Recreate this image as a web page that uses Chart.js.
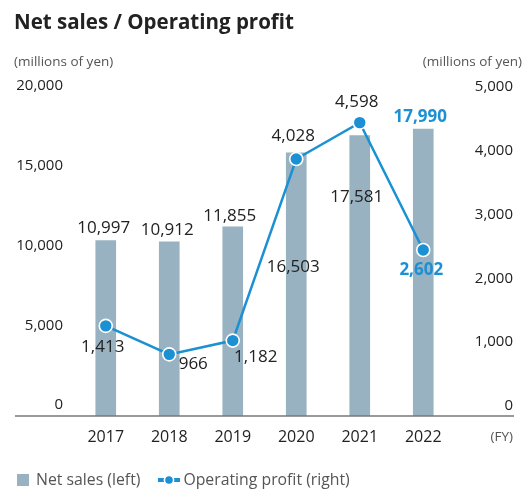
<!DOCTYPE html>
<html>
<head>
<meta charset="utf-8">
<script src="https://cdn.jsdelivr.net/npm/chart.js@4.4.1/dist/chart.umd.min.js"></script>
<style>
  html, body { margin:0; padding:0; background:#fff; }
  #wrap { position:relative; width:524px; height:495px; overflow:hidden; font-family:"Open Sans", sans-serif; }
  #c { position:absolute; left:0; top:0; }
  .txt { position:absolute; white-space:nowrap; line-height:1; }
  #title { left:14px; top:11px; font-size:20.5px; font-weight:700; color:#222; }
  #unitL { left:14px; top:55px; font-size:13.5px; color:#555; }
  #unitR { right:2px; top:55px; font-size:13.5px; color:#555; }
  #fy { right:11px; top:430px; font-size:13.5px; color:#555; }
  #legend { position:absolute; left:17px; top:472px; font-size:15.8px; color:#555; display:flex; align-items:center; line-height:1; }
  .sw { display:inline-block; width:12px; height:12px; background:#98b2c2; margin-right:7px; }
  .lg { display:inline-block; margin-right:3px; }
</style>
</head>
<body>
<div id="wrap">
  <canvas id="c" width="524" height="495"></canvas>
  <div id="title" class="txt">Net sales / Operating profit</div>
  <div id="unitL" class="txt">(millions of yen)</div>
  <div id="unitR" class="txt">(millions of yen)</div>
  <div id="fy" class="txt">(FY)</div>
  <div id="legend">
    <span class="sw"></span><span>Net sales (left)</span>
    <svg class="lg" style="margin-left:18px" width="22" height="12" viewBox="0 0 22 12">
      <line x1="0" y1="6" x2="22" y2="6" stroke="#1b90d3" stroke-width="4"/>
      <circle cx="11" cy="6" r="4.6" fill="#1b90d3" stroke="#fff" stroke-width="1.6"/>
    </svg><span>Operating profit (right)</span>
  </div>
</div>
<script>
// ---- data ----
const years = ['2017', '2018', '2019', '2020', '2021', '2022'];
const netSales = [10997, 10912, 11855, 16503, 17581, 17990];
const operatingProfit = [1413, 966, 1182, 4028, 4598, 2602];
const leftTicks = [0, 5000, 10000, 15000, 20000];
const rightTicks = [0, 1000, 2000, 3000, 4000, 5000];

// ---- styles ----
const FONT = '"Open Sans", sans-serif';
const BAR_COLOR = '#98b2c2';
const LINE_COLOR = '#1b90d3';
const TEXT = '#222';
const barLabelOffsets = [[-2,-12],[-2,-12],[-3,-11],[-3,114],[-3,62],[-3,-12]];
const lineLabelOffsets = [[-3,21],[24,10],[23,17],[-3,-23],[-3,-20],[-2,20]];
const highlightIndex = 5;

const fmt = v => Number(v).toLocaleString('en-US');

const valueLabels = {
  id: 'valueLabels',
  afterDatasetsDraw(chart) {
    const ctx = chart.ctx;
    ctx.save();
    ctx.textAlign = 'center';
    ctx.textBaseline = 'middle';
    chart.data.datasets.forEach((ds, di) => {
      const meta = chart.getDatasetMeta(di);
      const offs = ds.type === 'bar' ? barLabelOffsets : lineLabelOffsets;
      meta.data.forEach((el, i) => {
        const hl = i === highlightIndex;
        ctx.font = (hl ? '700 ' : '400 ') + '17px ' + FONT;
        ctx.fillStyle = hl ? LINE_COLOR : TEXT;
        ctx.fillText(fmt(ds.data[i]), el.x + offs[i][0], el.y + offs[i][1]);
      });
    });
    ctx.restore();
  }
};

const baseLine = {
  id: 'baseLine',
  afterDatasetsDraw(chart) {
    const ctx = chart.ctx;
    const y = chart.chartArea.bottom;
    ctx.save();
    ctx.strokeStyle = '#777';
    ctx.lineWidth = 1.5;
    ctx.beginPath();
    ctx.moveTo(15, y);
    ctx.lineTo(514, y);
    ctx.stroke();
    ctx.restore();
  }
};

new Chart(document.getElementById('c'), {
  data: {
    labels: years,
    datasets: [
      {
        type: 'line',
        label: 'Operating profit (right)',
        data: operatingProfit,
        yAxisID: 'y1',
        borderColor: LINE_COLOR,
        borderWidth: 2.5,
        pointRadius: 6.5,
        pointBackgroundColor: LINE_COLOR,
        pointBorderColor: '#fff',
        pointBorderWidth: 1.6,
        tension: 0,
        order: 0
      },
      {
        type: 'bar',
        label: 'Net sales (left)',
        data: netSales,
        yAxisID: 'y',
        backgroundColor: BAR_COLOR,
        barThickness: 20,
        order: 1
      }
    ]
  },
  options: {
    responsive: false,
    animation: false,
    events: [],
    layout: { padding: { top: 97, left: 0, right: 11, bottom: 0 } },
    plugins: { legend: { display: false }, tooltip: { enabled: false }, title: { display: false } },
    scales: {
      x: {
        offset: true,
        grid: { display: false, drawTicks: false },
        border: { display: false },
        ticks: { color: TEXT, font: { family: FONT, size: 16 }, padding: 12, maxRotation: 0 },
        afterFit: s => { s.height = 79; }
      },
      y: {
        position: 'left',
        min: 0, max: 20000,
        afterBuildTicks: s => { s.ticks = leftTicks.map(v => ({ value: v })); },
        grid: { display: false, drawTicks: false },
        border: { display: false },
        ticks: { color: TEXT, font: { family: FONT, size: 15 }, padding: 11, labelOffset: -11, callback: v => fmt(v) },
        afterFit: s => { s.width = 74; }
      },
      y1: {
        position: 'right',
        min: 0, max: 5000,
        afterBuildTicks: s => { s.ticks = rightTicks.map(v => ({ value: v })); },
        grid: { display: false, drawTicks: false },
        border: { display: false },
        ticks: { color: TEXT, font: { family: FONT, size: 15 }, padding: 10, labelOffset: -10, crossAlign: 'far', callback: v => fmt(v) },
        afterFit: s => { s.width = 58; }
      }
    }
  },
  plugins: [valueLabels, baseLine]
});
</script>
</body>
</html>
